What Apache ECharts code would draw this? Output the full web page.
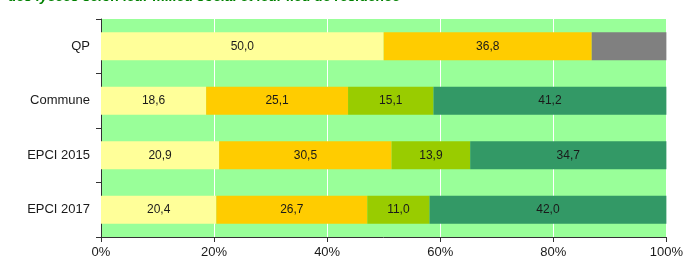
<!DOCTYPE html>
<html>
<head>
<meta charset="utf-8">
<script src="https://cdn.jsdelivr.net/npm/echarts@6/dist/echarts.min.js"></script>
<style>
  html, body { margin: 0; padding: 0; background: #fff; }
  #main { width: 686px; height: 262px; }
</style>
</head>
<body>
<div id="main"></div>
<script>
var categories = ['QP', 'Commune', 'EPCI 2015', 'EPCI 2017'];
var serie1 = [50.0, 18.6, 20.9, 20.4];
var serie2 = [36.8, 25.1, 30.5, 26.7];
var serie3 = [null, 15.1, 13.9, 11.0];
var serie4 = [null, 41.2, 34.7, 42.0];
var serieGris = [13.2, null, null, null];
var xTicks = [0, 20, 40, 60, 80, 100];

var myChart = echarts.init(document.getElementById('main'));

function barSerie(data, color, showLabel) {
    return {
        type: 'bar',
        stack: 'total',
        data: data,
        barWidth: '51%',
        itemStyle: { color: color },
        label: {
            show: showLabel,
            position: 'inside',
            color: '#1a1a1a',
            fontSize: 12,
            fontFamily: 'Liberation Sans',
            formatter: function (p) {
                return p.value == null ? '' : p.value.toFixed(1).replace('.', ',');
            }
        }
    };
}

var option = {
    animation: false,
    graphic: [{
        type: 'text',
        left: 8,
        top: -10,
        style: {
            text: 'des lycées selon leur milieu social et leur lieu de résidence',
            font: 'italic bold 14px "Liberation Sans"',
            fill: '#008000'
        }
    }],
    grid: {
        left: 101, right: 17, top: 19, bottom: 25,
        show: true,
        backgroundColor: '#99FF99',
        borderWidth: 0
    },
    xAxis: {
        type: 'value',
        min: xTicks[0],
        max: xTicks[xTicks.length - 1],
        interval: 20,
        axisLine: { show: true, lineStyle: { color: '#333' } },
        axisTick: { show: true, length: 5, lineStyle: { color: '#333' } },
        axisLabel: {
            formatter: '{value}%',
            color: '#1a1a1a',
            fontSize: 13,
            fontFamily: 'Liberation Sans',
            margin: 9
        },
        splitLine: { show: true, lineStyle: { color: '#ffffff', width: 1 } }
    },
    yAxis: {
        type: 'category',
        inverse: true,
        data: categories,
        axisLine: { show: true, lineStyle: { color: '#333' } },
        axisTick: { show: true, length: 5, lineStyle: { color: '#333' } },
        axisLabel: {
            color: '#1a1a1a',
            fontSize: 13,
            fontFamily: 'Liberation Sans',
            margin: 11
        },
        splitLine: { show: false }
    },
    series: [
        barSerie(serie1, '#FFFF99', true),
        barSerie(serie2, '#FFCC00', true),
        barSerie(serie3, '#99CC00', true),
        barSerie(serie4, '#339966', true),
        barSerie(serieGris, '#808080', false)
    ]
};

myChart.setOption(option);
</script>
</body>
</html>
